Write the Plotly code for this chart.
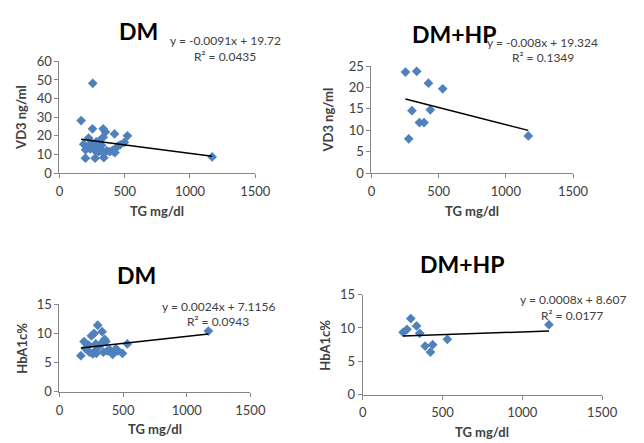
import numpy as np
import plotly.graph_objects as go

W, H = 644, 443
PAGE_OFFSET = 8  # the page body margin shifts the figure by 8 px right and down

# ---------------- data ----------------
# DM group: VD3 vs TG
dm_tg_vd3 = [166, 255, 253, 335, 352, 422, 521, 223, 335, 186, 248, 497, 199, 273, 340, 1170,
             200, 215, 235, 262, 275, 290, 300, 310, 322, 332, 362, 385, 405, 425, 445, 465, 282, 300]
dm_vd3 = [28.2, 48.2, 23.8, 23.8, 22.1, 21.0, 20.0, 18.8, 19.3, 15.5, 16.0, 16.5, 8.0, 8.0, 8.3, 8.7,
          12.5, 14.0, 13.0, 14.8, 12.0, 15.5, 11.5, 13.5, 15.0, 11.0, 12.0, 11.5, 12.0, 11.0, 14.3, 15.2, 16.8, 17.0]

# DM group: HbA1c vs TG
dm_tg_hba1c = [168, 193, 205, 221, 235, 251, 262, 272, 280, 290, 300, 310, 325, 335, 345, 355, 365,
               375, 395, 418, 444, 460, 495, 533, 1170, 230, 285]
dm_hba1c = [6.2, 8.6, 7.4, 7.8, 6.8, 9.6, 6.5, 10.0, 7.0, 6.6, 11.4, 7.8, 8.2, 10.3, 6.8, 9.0, 8.6,
            7.0, 7.2, 6.4, 7.4, 7.0, 6.6, 8.2, 10.4, 8.0, 8.2]

# DM+HP group
hp_tg = [253, 277, 301, 337, 357, 391, 424, 438, 530, 1167]
hp_vd3 = [23.6, 8.0, 14.6, 23.8, 11.8, 11.8, 21.0, 14.8, 19.7, 8.7]
hp_hba1c = [9.35, 9.8, 11.4, 10.3, 9.2, 7.3, 6.4, 7.5, 8.3, 10.5]

# trendline coefficients (slope, intercept) and labels
panel_titles = ["DM", "DM+HP", "DM", "DM+HP"]
trend_slopes = [-0.0091, -0.008, 0.0024, 0.0008]
trend_intercepts = [19.72, 19.324, 7.1156, 8.607]
eq_labels = ["y = -0.0091x + 19.72", "y = -0.008x + 19.324", "y = 0.0024x + 7.1156", "y = 0.0008x + 8.607"]
r2_labels = ["R\u00b2 = 0.0435", "R\u00b2 = 0.1349", "R\u00b2 = 0.0943", "R\u00b2 = 0.0177"]
y_titles = ["VD3 ng/ml", "VD3 ng/ml", "HbA1c%", "HbA1c%"]
x_title = "TG mg/dl"
x_ticks = [0, 500, 1000, 1500]
y_ranges = [[0, 60], [0, 25], [0, 15], [0, 15]]
y_dticks = [10, 5, 5, 5]

# ---------------- layout helpers (screen pixels -> paper) ----------------
def px(x):
    return (x - PAGE_OFFSET) / W

def py(y):
    return 1 - (y - PAGE_OFFSET) / H

# plot-area boxes in screen pixels: (left, right, top, bottom)
boxes = [(57, 259, 55, 171), (379, 587, 60, 171), (57, 254, 307, 398), (370, 617, 297, 401)]
title_pos = [(139, 24), (465, 27), (137, 277), (473, 265)]
eq_pos = [(228, 33), (555, 35), (221, 309), (587, 302)]
r2_pos = [(228, 50), (556, 51), (221, 325), (586, 319)]
x_title_y = [210, 210, 436, 440]
y_title_x = [18, 334, 18, 331]

FONT = "Lato, Calibri, Arial, sans-serif"
BLUE = "#4F81BD"
AX = "#868686"
TXT = "#404040"

data_x = [dm_tg_vd3, hp_tg, dm_tg_hba1c, hp_tg]
data_y = [dm_vd3, hp_vd3, dm_hba1c, hp_hba1c]

fig = go.Figure()
annotations = []
layout = {}

for i in range(4):
    n = "" if i == 0 else str(i + 1)
    xa, ya = "x" + n, "y" + n
    xs = np.array(data_x[i], dtype=float)
    ys = np.array(data_y[i], dtype=float)
    fig.add_trace(go.Scatter(
        x=xs, y=ys, mode="markers", xaxis=xa, yaxis=ya,
        marker=dict(symbol="diamond", size=7.5, color=BLUE, line=dict(width=0)),
        showlegend=False, cliponaxis=False))
    tx = np.array([xs.min(), xs.max()])
    ty = trend_slopes[i] * tx + trend_intercepts[i]
    fig.add_trace(go.Scatter(
        x=tx, y=ty, mode="lines", xaxis=xa, yaxis=ya,
        line=dict(color="black", width=1.5), showlegend=False))

    l, r, t, b = boxes[i]
    layout["xaxis" + n] = dict(
        domain=[px(l), px(r)], anchor=ya, range=[0, 1500], tickvals=x_ticks,
        showline=True, linecolor=AX, linewidth=1, ticks="outside", ticklen=4,
        tickcolor=AX, showgrid=False, zeroline=False,
        tickfont=dict(family=FONT, size=13, color=TXT), ticklabelstandoff=2,
        fixedrange=True)
    layout["yaxis" + n] = dict(
        domain=[py(b), py(t)], anchor=xa, range=y_ranges[i], dtick=y_dticks[i], tick0=0,
        showline=True, linecolor=AX, linewidth=1, ticks="outside", ticklen=4,
        tickcolor=AX, showgrid=False, zeroline=False,
        tickfont=dict(family=FONT, size=13, color=TXT),
        fixedrange=True)

    # axis titles as annotations for precise placement
    annotations.append(dict(
        x=px((l + r) / 2), y=py(x_title_y[i]), xref="paper", yref="paper",
        text="<b>" + x_title + "</b>", showarrow=False, xanchor="center", yanchor="middle",
        font=dict(family=FONT, size=13, color=TXT)))
    annotations.append(dict(
        x=px(y_title_x[i]), y=py((t + b) / 2), xref="paper", yref="paper",
        text="<b>" + y_titles[i] + "</b>", showarrow=False, xanchor="center", yanchor="middle",
        textangle=-90, font=dict(family=FONT, size=13, color=TXT)))

    annotations.append(dict(
        x=px(title_pos[i][0]), y=py(title_pos[i][1]), xref="paper", yref="paper",
        text="<b>" + panel_titles[i] + "</b>", showarrow=False, xanchor="center", yanchor="middle",
        font=dict(family=FONT, size=23, color="black")))
    annotations.append(dict(
        x=px(eq_pos[i][0]), y=py(eq_pos[i][1]), xref="paper", yref="paper",
        text=eq_labels[i], showarrow=False, xanchor="center", yanchor="middle",
        font=dict(family=FONT, size=12, color=TXT)))
    annotations.append(dict(
        x=px(r2_pos[i][0]), y=py(r2_pos[i][1]), xref="paper", yref="paper",
        text=r2_labels[i], showarrow=False, xanchor="center", yanchor="middle",
        font=dict(family=FONT, size=12, color=TXT)))

fig.update_layout(
    width=W, height=H, margin=dict(l=0, r=0, t=0, b=0),
    paper_bgcolor="white", plot_bgcolor="white",
    annotations=annotations, **layout)

fig.write_html("out.html", config={"displayModeBar": False})
